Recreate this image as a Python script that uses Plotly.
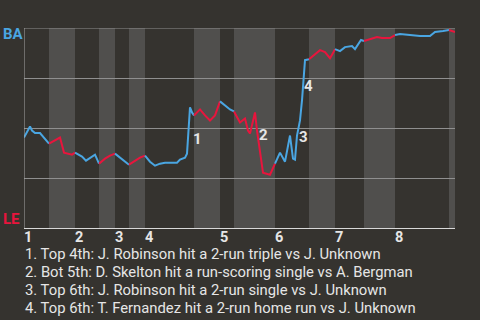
import plotly.graph_objects as go

# Win-probability trace (x = game progress, y = BA win probability)
xs = [0, 6, 8, 11, 16, 21, 25, 31, 36, 40, 44, 48, 51, 58, 62, 66, 71, 75, 81, 86, 91,
      96, 105, 111, 116, 121, 126, 131, 136, 141, 153, 156, 161, 163, 164, 165, 166, 168,
      170, 176, 181, 186, 191, 196, 201, 206, 210, 216, 221, 224, 226, 229, 231, 233, 239,
      246, 251, 256, 261, 266, 269, 271, 273, 276, 278, 280, 281, 285, 296, 301, 306, 309,
      311, 316, 321, 328, 331, 334, 337, 340, 346, 353, 358, 366, 371, 376, 386, 396, 406,
      411, 419, 425, 431]
ys = [0.455, 0.51, 0.49, 0.477, 0.477, 0.45, 0.425, 0.44, 0.455, 0.38, 0.375, 0.37, 0.38,
      0.36, 0.34, 0.355, 0.37, 0.325, 0.35, 0.365, 0.375, 0.355, 0.32, 0.34, 0.355, 0.365,
      0.335, 0.315, 0.325, 0.33, 0.33, 0.345, 0.355, 0.375, 0.455, 0.54, 0.605, 0.58, 0.565,
      0.595, 0.565, 0.54, 0.565, 0.635, 0.615, 0.595, 0.585, 0.53, 0.55, 0.49, 0.475, 0.54,
      0.58, 0.49, 0.28, 0.27, 0.325, 0.38, 0.335, 0.465, 0.35, 0.345, 0.465, 0.54, 0.64,
      0.765, 0.84, 0.845, 0.89, 0.88, 0.85, 0.875, 0.895, 0.885, 0.905, 0.91, 0.895, 0.915,
      0.94, 0.935, 0.945, 0.955, 0.95, 0.95, 0.965, 0.97, 0.965, 0.96, 0.96, 0.98, 0.985,
      0.99, 0.98]

# Half-inning boundaries (top halves = BA batting, bottom halves = LE batting)
half_bounds = [0, 25, 51, 75, 91, 105, 121, 170, 196, 210, 251, 285, 311, 340, 371, 425, 431]
innings = ["1", "2", "3", "4", "5", "6", "7", "8"]

event_labels = ["1", "2", "3", "4"]
event_x = [173, 239.5, 279, 284]
event_y = [0.45, 0.47, 0.46, 0.71]
event_text = [
    "1. Top 4th: J. Robinson hit a 2-run triple vs J. Unknown",
    "2. Bot 5th: D. Skelton hit a run-scoring single vs A. Bergman",
    "3. Top 6th: J. Robinson hit a 2-run single vs J. Unknown",
    "4. Top 6th: T. Fernandez hit a 2-run home run vs J. Unknown",
]

BLUE = "#4aa6e2"
RED = "#e8153d"
BG = "#35332f"
BAND = "#504f4d"
TXT = "#e6e6e6"

fig = go.Figure()

shapes = []
for i in range(len(half_bounds) - 1):
    a, b = half_bounds[i], half_bounds[i + 1]
    color = BLUE if i % 2 == 0 else RED
    if i % 2 == 1:
        shapes.append(dict(type="rect", xref="x", yref="paper", x0=a, x1=b, y0=0, y1=1,
                           fillcolor=BAND, line=dict(width=0), layer="below"))
    sx = [x for x in xs if a <= x <= b]
    sy = [y for x, y in zip(xs, ys) if a <= x <= b]
    fig.add_trace(go.Scatter(x=sx, y=sy, mode="lines", line=dict(color=color, width=2),
                             hoverinfo="skip", showlegend=False))

# top line, left axis, bottom axis
shapes.append(dict(type="line", xref="x", yref="y", x0=0, x1=431, y0=1, y1=1,
                   line=dict(color="#8f8f8f", width=1)))
shapes.append(dict(type="line", xref="x", yref="y", x0=0, x1=0, y0=0, y1=1,
                   line=dict(color="#a8a8a8", width=1)))
shapes.append(dict(type="line", xref="x", yref="y", x0=0, x1=431, y0=0, y1=0,
                   line=dict(color="#d8d8d8", width=2)))

annotations = []
annotations.append(dict(text="<b>BA</b>", xref="paper", yref="paper", x=0, y=1,
                        xanchor="left", yanchor="middle", xshift=-23, yshift=-6,
                        showarrow=False, font=dict(color=BLUE, size=15, family="Roboto")))
annotations.append(dict(text="<b>LE</b>", xref="paper", yref="paper", x=0, y=0,
                        xanchor="left", yanchor="middle", xshift=-23, yshift=10,
                        showarrow=False, font=dict(color=RED, size=15, family="Roboto")))

for k, lab in enumerate(innings):
    annotations.append(dict(text="<b>" + lab + "</b>", xref="x", yref="paper",
                            x=half_bounds[2 * k], y=0, xanchor="left", yanchor="middle",
                            yshift=-8.5, xshift=-1, showarrow=False, borderpad=0,
                            font=dict(color=TXT, size=14.5, family="Roboto")))

for lab, ex, ey in zip(event_labels, event_x, event_y):
    annotations.append(dict(text="<b>" + lab + "</b>", xref="x", yref="y", x=ex, y=ey,
                            xanchor="center", yanchor="middle", showarrow=False,
                            font=dict(color=TXT, size=15, family="Roboto")))

for i, t in enumerate(event_text):
    annotations.append(dict(text=t, xref="paper", yref="paper", x=0, y=0,
                            xanchor="left", yanchor="middle", xshift=0, borderpad=0,
                            yshift=-(24.5 + 18 * i), showarrow=False,
                            font=dict(color=TXT, size=14.8, family="Roboto")))

fig.update_layout(
    width=480, height=320,
    margin=dict(l=24, r=25, t=28, b=91),
    paper_bgcolor=BG, plot_bgcolor=BG,
    xaxis=dict(range=[0, 431], showgrid=False, showticklabels=False, zeroline=False,
               showline=False, fixedrange=True),
    yaxis=dict(range=[0, 1], tickvals=[0.25, 0.5, 0.75], showgrid=True,
               gridcolor="#8f8f8f", gridwidth=1, showticklabels=False, zeroline=False,
               showline=False, fixedrange=True),
    shapes=shapes, annotations=annotations,
)

fig.write_html("out.html", config={"displayModeBar": False})
